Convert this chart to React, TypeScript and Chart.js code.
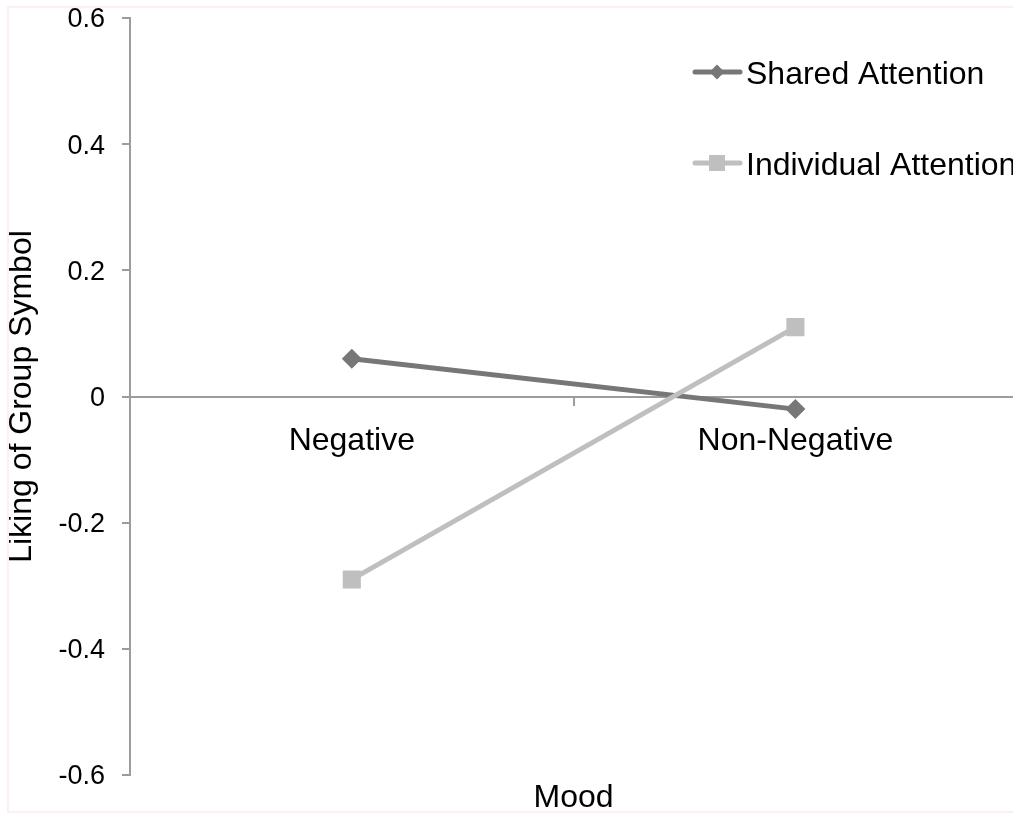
import React, { useEffect, useRef } from 'react';
import { Chart, registerables } from 'chart.js';

Chart.register(...registerables);

const categories = ['Negative', 'Non-Negative'];
const sharedAttention = [0.06, -0.02];
const individualAttention = [-0.29, 0.11];
const seriesNames = ['Shared Attention', 'Individual Attention'];
const yTicks = [-0.6, -0.4, -0.2, 0, 0.2, 0.4, 0.6];
const yTitle = 'Liking of Group Symbol';
const xTitle = 'Mood';

const DARK = '#777777';
const LIGHT = '#bfbfbf';
const AXIS = '#9c9c9c';
const FONT = "'Liberation Sans', Arial, Helvetica, sans-serif";

function drawMarker(ctx: CanvasRenderingContext2D, style: string, x: number, y: number, r: number, color: string) {
  ctx.save();
  ctx.fillStyle = color;
  ctx.beginPath();
  if (style === 'rectRot') {
    ctx.moveTo(x - r, y);
    ctx.lineTo(x, y - r);
    ctx.lineTo(x + r, y);
    ctx.lineTo(x, y + r);
    ctx.closePath();
  } else {
    ctx.rect(x - r, y - r, 2 * r, 2 * r);
  }
  ctx.fill();
  ctx.restore();
}

const insideLegend = {
  id: 'insideLegend',
  afterDatasetsDraw(chart: any) {
    const { ctx, chartArea } = chart;
    const x0 = chartArea.left + 563;
    const y0 = chartArea.top + 54;
    const gap = 91;
    const markerSizes = [7.5, 8];
    chart.data.datasets.forEach((ds: any, i: number) => {
      const y = y0 + i * gap;
      ctx.save();
      ctx.strokeStyle = ds.borderColor;
      ctx.lineWidth = 5;
      ctx.lineCap = 'round';
      ctx.beginPath();
      ctx.moveTo(x0 + 2, y);
      ctx.lineTo(x0 + 47, y);
      ctx.stroke();
      ctx.restore();
      drawMarker(ctx, ds.pointStyle, x0 + 24, y, markerSizes[i], ds.borderColor);
      ctx.save();
      ctx.fillStyle = '#000';
      ctx.font = `32px ${FONT}`;
      ctx.textBaseline = 'middle';
      ctx.textAlign = 'left';
      ctx.fillText(ds.label, x0 + 53, y + 3);
      ctx.restore();
    });
  },
};

export default function App() {
  const canvasRef = useRef<HTMLCanvasElement | null>(null);

  useEffect(() => {
    if (!canvasRef.current) return;
    const chart = new Chart(canvasRef.current, {
      type: 'line',
      data: {
        labels: categories,
        datasets: [
          {
            label: seriesNames[0],
            data: sharedAttention,
            borderColor: DARK,
            backgroundColor: DARK,
            borderWidth: 5,
            pointStyle: 'rectRot',
            pointRadius: 10,
            pointHoverRadius: 10,
            pointBorderWidth: 0,
            pointBackgroundColor: DARK,
            order: 1,
          },
          {
            label: seriesNames[1],
            data: individualAttention,
            borderColor: LIGHT,
            backgroundColor: LIGHT,
            borderWidth: 5,
            pointStyle: 'rect',
            pointRadius: 12.8,
            pointHoverRadius: 12.8,
            pointBorderWidth: 0,
            pointBackgroundColor: LIGHT,
            order: 0,
          },
        ],
      },
      options: {
        animation: false,
        responsive: true,
        maintainAspectRatio: false,
        layout: { padding: { left: 0, top: 18, right: 12, bottom: 0 } },
        plugins: {
          legend: { display: false },
          tooltip: { enabled: false },
        },
        scales: {
          x: {
            type: 'category',
            position: { y: 0 } as any,
            offset: true,
            grid: {
              display: true,
              drawOnChartArea: false,
              drawTicks: true,
              tickLength: 8,
              color: AXIS,
              lineWidth: 2,
              offset: true,
            },
            border: { display: true, color: AXIS, width: 2 },
            ticks: {
              color: '#000',
              font: { family: FONT, size: 32 },
              padding: 17,
              maxRotation: 0,
              autoSkip: false,
            },
          },
          x2: {
            type: 'category',
            labels: categories,
            position: 'bottom',
            offset: true,
            grid: { display: false },
            border: { display: false },
            ticks: { display: false },
            title: {
              display: true,
              text: xTitle,
              color: '#000',
              font: { family: FONT, size: 32, lineHeight: 1 },
              padding: 0,
            },
            afterFit: (s: any) => {
              s.height = 39;
            },
          },
          y: {
            type: 'linear',
            position: 'left',
            min: yTicks[0],
            max: yTicks[yTicks.length - 1],
            afterBuildTicks: (s: any) => {
              s.ticks = yTicks.map((v) => ({ value: v }));
            },
            grid: {
              display: true,
              drawOnChartArea: false,
              drawTicks: true,
              tickLength: 8,
              color: AXIS,
              lineWidth: 2,
            },
            border: { display: true, color: AXIS, width: 2 },
            ticks: {
              color: '#000',
              font: { family: FONT, size: 27 },
              padding: 17,
              labelOffset: 2,
              callback: (v: any) => {
                const n = Math.round(Number(v) * 10) / 10;
                return n === 0 ? '0' : n.toFixed(1);
              },
            },
            title: {
              display: true,
              text: yTitle,
              color: '#000',
              font: { family: FONT, size: 32, lineHeight: 1 },
              padding: { top: 6, bottom: 0 },
            },
            afterFit: (s: any) => {
              s.width = 130;
              s.paddingTop = 16;
              s.paddingBottom = 16;
            },
          },
        },
      },
      plugins: [insideLegend],
    });
    return () => chart.destroy();
  }, []);

  return (
    <div
      style={{
        position: 'absolute',
        left: 0,
        top: 0,
        width: 1013,
        height: 814,
        overflow: 'hidden',
        background: '#fff',
      }}
    >
      <div style={{ position: 'relative', width: 1030, height: 814 }}>
        <canvas ref={canvasRef} />
      </div>
      <div
        style={{
          position: 'absolute',
          left: 7,
          top: 6,
          width: 1030,
          height: 807,
          boxSizing: 'border-box',
          border: '2px solid #fbf1f1',
          pointerEvents: 'none',
        }}
      />
    </div>
  );
}
